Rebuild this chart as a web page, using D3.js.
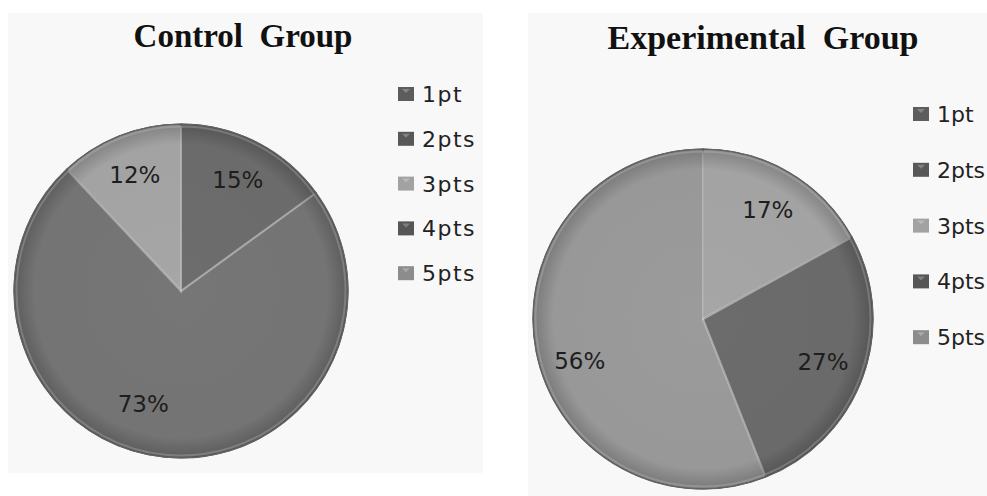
<!DOCTYPE html>
<html>
<head>
<meta charset="utf-8">
<script src="https://cdn.jsdelivr.net/npm/d3@7/dist/d3.min.js"></script>
<style>
  html, body { margin: 0; padding: 0; background: #ffffff; }
  svg { display: block; }
  .title { font-family: "Liberation Serif", "Times New Roman", serif; font-weight: bold; white-space: pre; }
  .lbl { font-family: "DejaVu Sans", sans-serif; }
</style>
</head>
<body>
<svg id="chart" width="987" height="496"></svg>
<script>
// ---- data ----
const categories = ["1pt", "2pts", "3pts", "4pts", "5pts"];
const controlValues = [15, 73, 12, 0, 0];
const experimentalValues = [0, 0, 17, 27, 56];
const chartTitles = ["Control  Group", "Experimental  Group"];

// ---- styles ----
const sliceColors = ["#6d6d6d", "#767676", "#a6a6a6", "#6c6c6c", "#9b9b9b"];
const legendColors = ["#5c5c5c", "#585858", "#a2a2a2", "#565656", "#8c8c8c"];

const svg = d3.select("#chart");
const defs = svg.append("defs");

const panels = [
  { title: chartTitles[0], values: controlValues,
    bg: { x: 8, y: 13, w: 475, h: 460 },
    cx: 181, cy: 291, r: 167, titleX: 243, titleY: 47, titleSize: 33,
    legX: 398, legY0: 94, legStep: 44.8, legSpacing: 1.5,
    nudge: { "2pts": [-26, -12] } },
  { title: chartTitles[1], values: experimentalValues,
    bg: { x: 528, y: 13, w: 470, h: 490 },
    cx: 703, cy: 319, r: 170, titleX: 763, titleY: 49, titleSize: 34,
    legX: 913, legY0: 114, legStep: 55.8, legSpacing: 0,
    nudge: { "5pts": [2, 18] } }
];

panels.forEach((p, pi) => {
  const g = svg.append("g");
  g.append("rect").attr("x", p.bg.x).attr("y", p.bg.y).attr("width", p.bg.w).attr("height", p.bg.h)
    .attr("fill", "#f8f8f8");

  g.append("text").attr("class", "title")
    .attr("x", p.titleX).attr("y", p.titleY)
    .attr("text-anchor", "middle")
    .attr("font-size", p.titleSize)
    .attr("fill", "#111")
    .text(p.title);

  const data = categories.map((c, i) => ({ cat: c, value: p.values[i], idx: i }));
  const pie = d3.pie().sort(null).value(d => d.value);
  const arcs = pie(data).filter(a => a.data.value > 0);
  const arc = d3.arc().innerRadius(0).outerRadius(p.r);
  const labelArc = d3.arc().innerRadius(p.r * 0.75).outerRadius(p.r * 0.75);

  const gid = "shade" + pi;
  const grad = defs.append("radialGradient").attr("id", gid)
    .attr("gradientUnits", "userSpaceOnUse")
    .attr("cx", p.cx).attr("cy", p.cy).attr("r", p.r);
  grad.append("stop").attr("offset", "0%").attr("stop-color", "#000").attr("stop-opacity", 0);
  grad.append("stop").attr("offset", "88%").attr("stop-color", "#000").attr("stop-opacity", 0.02);
  grad.append("stop").attr("offset", "100%").attr("stop-color", "#000").attr("stop-opacity", 0.22);

  const pg = g.append("g").attr("transform", `translate(${p.cx},${p.cy})`);
  pg.selectAll("path.slice").data(arcs).enter().append("path")
    .attr("class", "slice")
    .attr("d", arc)
    .attr("fill", d => sliceColors[d.data.idx])
    .attr("stroke", "#5a5a5a").attr("stroke-width", 1.2);
  // inner highlight (bevel)
  const innerArc = d3.arc().innerRadius(0).outerRadius(p.r - 2.5);
  pg.selectAll("path.hl").data(arcs).enter().append("path")
    .attr("class", "hl")
    .attr("d", innerArc)
    .attr("fill", "none")
    .attr("stroke", "rgba(255,255,255,0.28)").attr("stroke-width", 2);
  // rim shade
  g.append("circle").attr("cx", p.cx).attr("cy", p.cy).attr("r", p.r)
    .attr("fill", `url(#${gid})`).attr("stroke", "#666").attr("stroke-width", 1);

  pg.selectAll("text.pct").data(arcs).enter().append("text")
    .attr("class", "lbl pct")
    .attr("transform", d => {
      const c = labelArc.centroid(d);
      const n = p.nudge[d.data.cat] || [0, 0];
      return `translate(${c[0] + n[0]},${c[1] + n[1]})`;
    })
    .attr("text-anchor", "middle")
    .attr("dy", "0.36em")
    .attr("font-size", 23)
    .attr("fill", "#1e1e1e")
    .text(d => d.data.value + "%");

  // legend
  const lg = g.append("g");
  const items = lg.selectAll("g").data(categories).enter().append("g")
    .attr("transform", (d, i) => `translate(${p.legX},${p.legY0 + i * p.legStep})`);
  items.append("rect").attr("x", 0).attr("y", -7).attr("width", 16).attr("height", 14)
    .attr("fill", (d, i) => legendColors[i]);
  items.append("path").attr("d", "M4,-5 L12,-5 L8,-1 Z").attr("fill", "rgba(255,255,255,0.25)");
  items.append("text").attr("class", "lbl")
    .attr("x", 24).attr("dy", "0.36em")
    .attr("font-size", 22).attr("letter-spacing", p.legSpacing)
    .attr("fill", "#222")
    .text(d => d);
});
</script>
</body>
</html>
